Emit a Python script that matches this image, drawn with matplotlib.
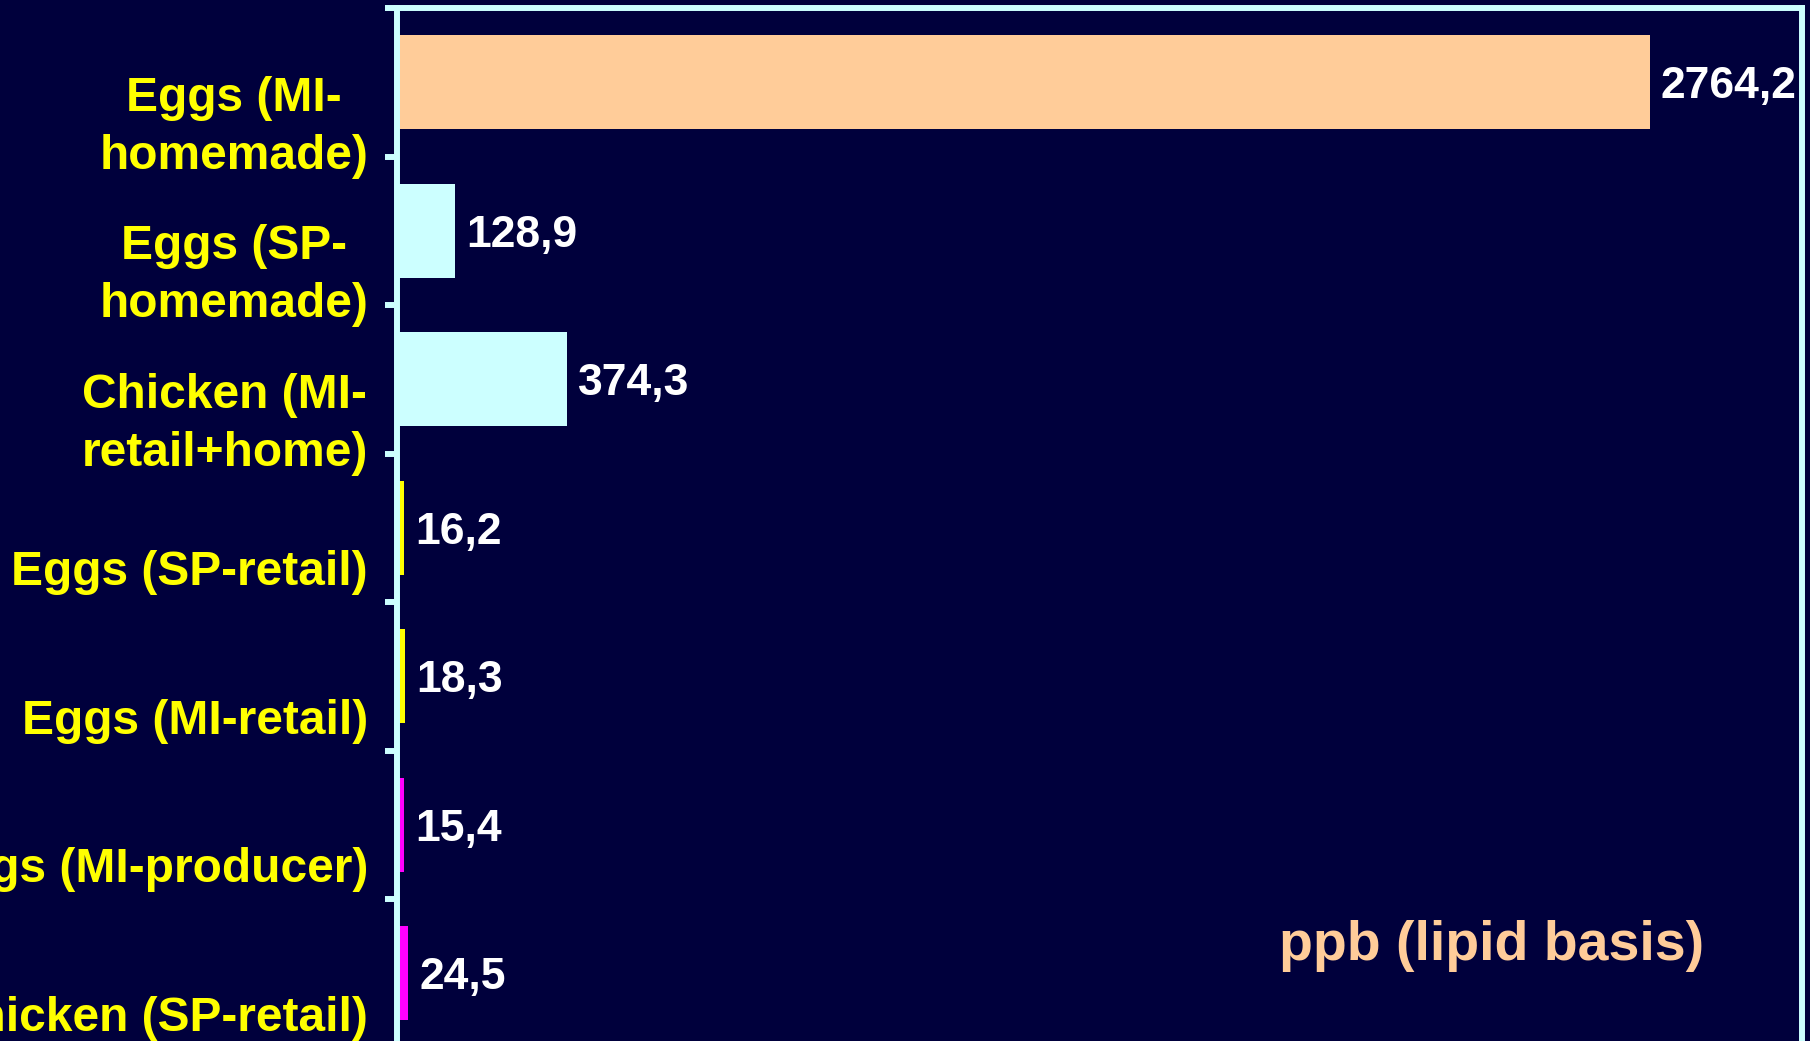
import numpy as np
import matplotlib.pyplot as plt
import matplotlib.transforms as mtransforms
from matplotlib.ticker import FixedLocator

# ------------------------------------------------------------
# Data
# ------------------------------------------------------------
categories = ["Eggs (MI-\nhomemade)", "Eggs (SP-\nhomemade)", "Chicken (MI-\nretail+home)",
              "Eggs (SP-retail)", "Eggs (MI-retail)", "Eggs (MI-producer)",
              "Chicken (SP-retail)"]
values = [2764.2, 128.9, 374.3, 16.2, 18.3, 15.4, 24.5]
value_labels = ["2764,2", "128,9", "374,3", "16,2", "18,3", "15,4", "24,5"]
bar_colors = ["#FFCC99", "#CCFFFF", "#CCFFFF", "#FFFF00", "#FFFF00", "#FF00FF", "#FF00FF"]
unit_label = "ppb (lipid basis)"

# ------------------------------------------------------------
# Style
# ------------------------------------------------------------
bg = "#00003C"
frame = "#CCFFFF"
plt.rcParams['font.family'] = ['Liberation Sans', 'DejaVu Sans']
plt.rcParams['font.weight'] = 'bold'

W, H, DPI = 1810, 1041, 100
fig = plt.figure(figsize=(W / DPI, H / DPI), dpi=DPI, facecolor=bg)

# axes placed in pixels: left spine x=397, right x=1802, top y=8, 148.5 px per row
top_px, row_px = 8, 148.5
ax_h = row_px * len(categories)
ax = fig.add_axes([397 / W, (H - top_px - ax_h) / H, (1802 - 397) / W, ax_h / H])
ax.set_facecolor(bg)

y = np.arange(len(categories))
ax.barh(y, values, height=0.63, color=bar_colors, zorder=1)
ax.set_xlim(0, 3100)
ax.set_ylim(len(categories) - 0.5, -0.5)

for sp in ax.spines.values():
    sp.set_color(frame)
    sp.set_linewidth(4.3)
    sp.set_zorder(3)

ax.set_xticks([])
ax.set_yticks([])
ax.yaxis.set_minor_locator(FixedLocator(np.arange(-0.5, len(categories), 1.0)))
ax.tick_params(axis='y', which='minor', direction='out', length=8.6, width=4.3,
               color=frame, left=True)

# value labels right of each bar
for yi, v, lab in zip(y, values, value_labels):
    ax.annotate(lab, xy=(v, yi), xytext=(8, 0), textcoords='offset points',
                ha='left', va='center_baseline', color='white',
                fontsize=32, fontweight='bold', clip_on=False)

# category labels, shifted down like on the slide
lab_tr = ax.get_yaxis_transform() + mtransforms.ScaledTranslation(-29 / DPI, -45 / DPI,
                                                                      fig.dpi_scale_trans)
for yi, name in zip(y, categories):
    ax.text(0, yi, name, transform=lab_tr, ha='right', va='center',
            multialignment='center', linespacing=1.38, color='#FFFF00',
            fontsize=34.5, fontweight='bold', clip_on=False)

ax.text(1492 / W, 1 - 946 / H, unit_label, transform=fig.transFigure,
        ha='center', va='center', color='#FFCC99', fontsize=40, fontweight='bold')

fig.savefig("out.png", dpi=DPI, facecolor=bg)
